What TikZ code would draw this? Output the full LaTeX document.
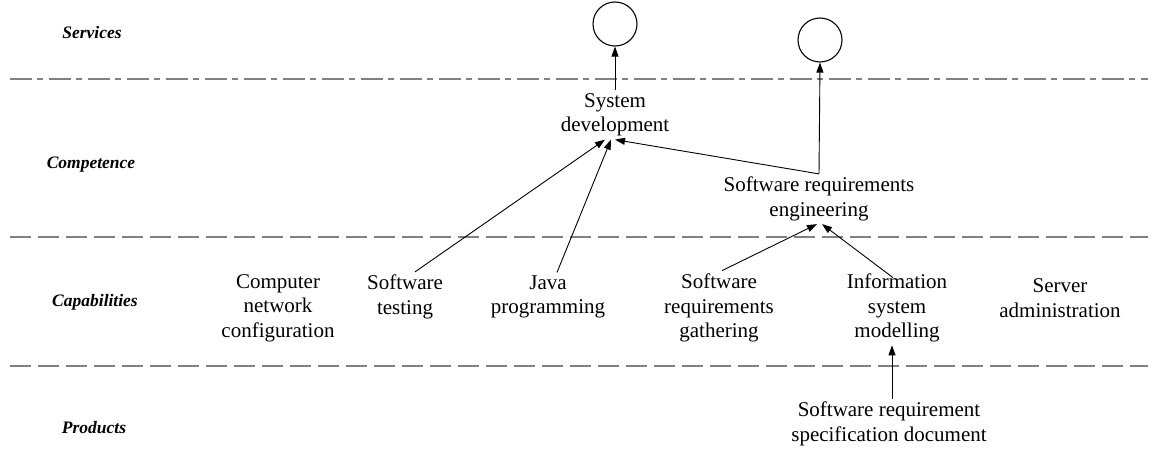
\documentclass[tikz,border=0pt]{standalone}
\usepackage{fontspec}
\setmainfont{Liberation Serif}
\usetikzlibrary{arrows.meta}
\begin{document}
\begin{tikzpicture}[x=1pt,y=-1pt,
  txt/.style={align=center, inner sep=3pt, font=\fontsize{21}{24.5}\selectfont},
  lane/.style={font=\fontsize{17.5}{20}\selectfont\bfseries\itshape, inner sep=0pt},
  svc/.style={circle, draw, line width=1.1pt, minimum size=44pt, inner sep=0pt},
  sep/.style={draw=black!50, line width=2pt, dash pattern=on 21pt off 7pt},
  sepdot/.style={draw=black!50, line width=2pt, dash pattern=on 22pt off 5pt on 6pt off 6pt},
  arr/.style={line width=0.9pt, -{Triangle[length=10pt,width=7pt]}}]
\useasboundingbox (0,0) rectangle (1157,452);
% lane separators
\coordinate (l1a) at (10,79);  \coordinate (l1b) at (1148,79);
\coordinate (l2a) at (10,237); \coordinate (l2b) at (1148,237);
\coordinate (l3a) at (10,366); \coordinate (l3b) at (1148,366);
\draw[sepdot] (l1a) -- (l1b);
\draw[sep] (l2a) -- (l2b);
\draw[sep] (l3a) -- (l3b);
% lane labels
\node[lane] (lsv) at (92,33) {Services};
\node[lane] (lco) at (91,165) {Competence};
\node[lane] (lca) at (95,302) {Capabilities};
\node[lane] (lpr) at (94,428) {Products};
% services
\node[svc] (s1) at (615,24) {};
\node[svc] (s2) at (820,40) {};
% competence
\node[txt] (sd) at (615,115) {System\\development};
\node[txt] (sre) at (819,199) {Software requirements\\engineering};
% capabilities
\node[txt] (cnc) at (278,308) {Computer\\network\\configuration};
\node[txt] (st) at (405,297) {Software\\testing};
\node[txt] (jp) at (548,297) {Java\\programming};
\node[txt] (srg) at (719,308) {Software\\requirements\\gathering};
\node[txt] (ism) at (897,308) {Information\\system\\modelling};
\node[txt] (sa) at (1060,298) {Server\\administration};
% products
\node[txt] (srs) at (889,424) {Software requirement\\specification document};
% connectors
\draw[arr] (sd.north) -- (s1.south);
\draw[arr] (sre.north) -- (s2.south);
\draw[arr] (sre.north) -- (sd.south);
\draw[arr] ([xshift=10pt]st.north) -- ([xshift=-10pt]sd.south);
\draw[arr] ([xshift=9pt]jp.north) -- ([xshift=-4pt]sd.south);
\draw[arr] ([xshift=3pt]srg.north) -- ([xshift=-2pt]sre.south);
\draw[arr] ([xshift=-4pt,yshift=-7pt]ism.north) -- ([xshift=3pt]sre.south);
\draw[arr] ([xshift=3pt]srs.north) -- ([xshift=-5pt]ism.south);
\end{tikzpicture}
\end{document}
